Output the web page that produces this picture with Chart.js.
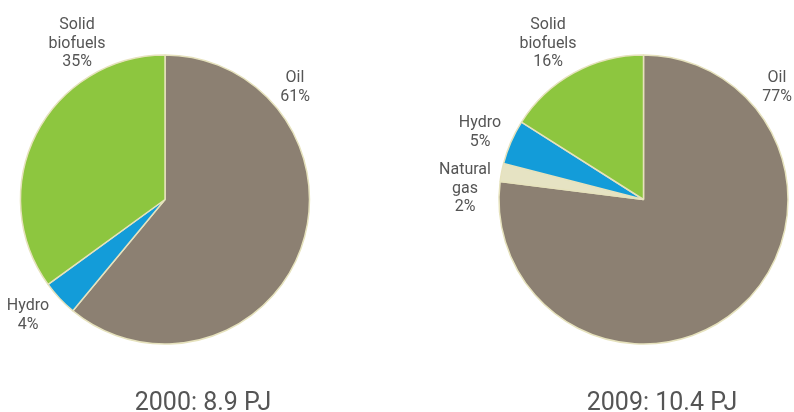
<!DOCTYPE html>
<html>
<head>
<meta charset="utf-8">
<script src="https://cdn.jsdelivr.net/npm/chart.js@4/dist/chart.umd.min.js"></script>
<style>
  html, body { margin: 0; padding: 0; background: #fff; overflow: hidden; }
  .wrap { position: absolute; left: 0; top: 0; width: 794px; height: 412px; }
</style>
</head>
<body>
<div class="wrap"><canvas id="pie2000"></canvas></div>
<div class="wrap"><canvas id="pie2009"></canvas></div>
<script>
// data
const labels2000 = ["Oil", "Hydro", "Solid biofuels"];
const values2000 = [61, 4, 35];
const labels2009 = ["Oil", "Natural gas", "Hydro", "Solid biofuels"];
const values2009 = [77, 2, 5, 16];
const titles = ["2000: 8.9 PJ", "2009: 10.4 PJ"];

const colorOf = {
  "Oil": "#8c8072",
  "Natural gas": "#e6e3c3",
  "Hydro": "#139cd9",
  "Solid biofuels": "#8dc63f",
};

// label placement (page px): lines of text, x, first baseline
const place2000 = {
  "Oil": { lines: ["Oil", "61%"], x: 295, y: 82 },
  "Hydro": { lines: ["Hydro", "4%"], x: 28, y: 310 },
  "Solid biofuels": { lines: ["Solid", "biofuels", "35%"], x: 77, y: 29 },
};
const place2009 = {
  "Oil": { lines: ["Oil", "77%"], x: 777, y: 82 },
  "Natural gas": { lines: ["Natural", "gas", "2%"], x: 465, y: 174 },
  "Hydro": { lines: ["Hydro", "5%"], x: 480, y: 127 },
  "Solid biofuels": { lines: ["Solid", "biofuels", "16%"], x: 548, y: 29 },
};

const labelPlugin = {
  id: "sliceLabels",
  afterDraw(chart, args, opts) {
    const ctx = chart.ctx;
    ctx.save();
    ctx.fillStyle = "#555";
    ctx.textAlign = "center";
    ctx.textBaseline = "alphabetic";
    ctx.font = "16px Roboto";
    Object.values(opts.place).forEach(p => {
      p.lines.forEach((t, i) => ctx.fillText(t, p.x, p.y + i * 18.5));
    });
    ctx.font = "25px Roboto";
    ctx.fillStyle = "#555";
    ctx.fillText(opts.title, opts.titleX, 410);
    ctx.restore();
  }
};

function makePie(id, labels, values, place, title, titleX, padLeft, padRight) {
  return new Chart(document.getElementById(id), {
    type: "pie",
    data: {
      labels,
      datasets: [{
        data: values,
        backgroundColor: labels.map(l => colorOf[l]),
        borderColor: "#e6e2bd",
        borderWidth: 1.5,
      }],
    },
    options: {
      responsive: true,
      maintainAspectRatio: false,
      animation: false,
      radius: 144.5,
      layout: { padding: { left: padLeft, right: padRight, top: 0, bottom: 13 } },
      plugins: {
        legend: { display: false },
        tooltip: { enabled: false },
        sliceLabels: { place, title, titleX },
      },
      events: [],
    },
    plugins: [labelPlugin],
  });
}

makePie("pie2000", labels2000, values2000, place2000, titles[0], 203, 0, 794 - 330);
makePie("pie2009", labels2009, values2009, place2009, titles[1], 662, 794 - 2 * (794 - 643.5), 0);
</script>
</body>
</html>
